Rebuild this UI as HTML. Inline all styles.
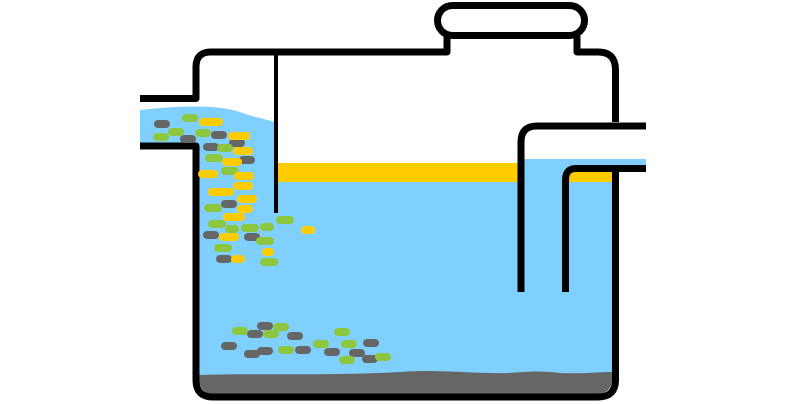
<!DOCTYPE html><html><head><style>html,body{margin:0;padding:0;background:#fff}svg{display:block}</style></head><body>
<svg width="802" height="404" viewBox="0 0 802 404" xmlns="http://www.w3.org/2000/svg">
<!-- water -->
<path d="M140,110 C175,106 215,104 240,112 C255,118 265,118 278,124 L278,182 L612,182 L612,380 L199,380 L199,146 L140,146 Z" fill="#80d0ff"/>
<rect x="520" y="159" width="126" height="13" fill="#80d0ff"/>
<rect x="520" y="159" width="92" height="230" fill="#80d0ff"/>
<!-- oil -->
<rect x="278" y="163" width="242" height="19" fill="#ffcc00"/>
<rect x="566" y="172" width="48" height="10" fill="#ffcc00"/>
<!-- sludge -->
<path d="M199,375 C260,373 330,376 400,372 C440,369 470,374 510,373 C530,371 545,371 560,373 C580,374 600,372 612,372 L612,378 Q612,394 596,394 L215,394 Q199,394 199,378 Z" fill="#666"/>
<g stroke="#000" stroke-width="7" fill="none" stroke-linejoin="round">
<rect x="437.5" y="5.5" width="147" height="30" rx="15"/>
<path d="M140,98.5 L196,98.5 L196,67 Q196,52 211,52 L447,52 L447,36"/>
<path d="M577,36 L577,52 L598,52 Q615.5,52 615.5,70 L615.5,122"/>
<path d="M140,146 L196,146 L196,380 Q196,397 213,397 L598,397 Q615.5,397 615.5,380 L615.5,169"/>
<path d="M646,126 L537,126 Q521,126 521,142 L521,292"/>
<path d="M646,168.5 L576,168.5 Q565.5,168.5 565.5,180 L565.5,292"/>
</g>
<line x1="276" y1="55" x2="276" y2="213" stroke="#000" stroke-width="4"/>
<g>
<g fill="#666">
<rect x="154" y="120" width="16" height="8" rx="4"/><rect x="180" y="135" width="16" height="8" rx="4"/><rect x="211" y="131" width="16" height="8" rx="4"/><rect x="203" y="143" width="16" height="8" rx="4"/><rect x="229" y="139" width="16" height="8" rx="4"/><rect x="239" y="156" width="16" height="8" rx="4"/><rect x="221" y="200" width="16" height="8" rx="4"/><rect x="203" y="231" width="16" height="8" rx="4"/><rect x="244" y="233" width="16" height="8" rx="4"/><rect x="216" y="255" width="16" height="8" rx="4"/>
<rect x="257" y="322" width="16" height="8" rx="4"/><rect x="247" y="330" width="16" height="8" rx="4"/><rect x="287" y="332" width="16" height="8" rx="4"/><rect x="221" y="342" width="16" height="8" rx="4"/><rect x="244" y="350" width="16" height="8" rx="4"/><rect x="257" y="347" width="16" height="8" rx="4"/><rect x="295" y="346" width="16" height="8" rx="4"/><rect x="324" y="348" width="16" height="8" rx="4"/><rect x="363" y="339" width="16" height="8" rx="4"/><rect x="349" y="349" width="16" height="8" rx="4"/><rect x="362" y="355" width="16" height="8" rx="4"/>
</g>
<g fill="#8dc63f">
<rect x="182" y="114" width="16" height="8" rx="4"/><rect x="153" y="133" width="16" height="8" rx="4"/><rect x="168" y="128" width="16" height="8" rx="4"/><rect x="195" y="129" width="16" height="8" rx="4"/><rect x="217" y="144" width="16" height="8" rx="4"/><rect x="205" y="154" width="18" height="8" rx="4"/><rect x="221" y="167" width="18" height="8" rx="4"/><rect x="204" y="204" width="18" height="8" rx="4"/><rect x="276" y="216" width="18" height="8" rx="4"/><rect x="208" y="220" width="18" height="8" rx="4"/><rect x="225" y="225" width="14" height="8" rx="4"/><rect x="241" y="224" width="18" height="8" rx="4"/><rect x="260" y="223" width="14" height="8" rx="4"/><rect x="256" y="237" width="18" height="8" rx="4"/><rect x="214" y="244" width="18" height="8" rx="4"/><rect x="260" y="258" width="18" height="8" rx="4"/>
<rect x="232" y="327" width="16" height="8" rx="4"/><rect x="273" y="323" width="16" height="8" rx="4"/><rect x="263" y="330" width="16" height="8" rx="4"/><rect x="334" y="328" width="16" height="8" rx="4"/><rect x="278" y="346" width="16" height="8" rx="4"/><rect x="313" y="340" width="16" height="8" rx="4"/><rect x="341" y="340" width="16" height="8" rx="4"/><rect x="339" y="356" width="16" height="8" rx="4"/><rect x="375" y="353" width="16" height="8" rx="4"/>
</g>
<g fill="#ffcc00">
<rect x="199" y="118" width="24" height="8" rx="4"/><rect x="228" y="132" width="22" height="8" rx="4"/><rect x="233" y="147" width="20" height="8" rx="4"/><rect x="222" y="158" width="20" height="8" rx="4"/><rect x="198" y="170" width="20" height="8" rx="4"/><rect x="234" y="172" width="20" height="8" rx="4"/><rect x="233" y="182" width="20" height="8" rx="4"/><rect x="208" y="188" width="26" height="8" rx="4"/><rect x="237" y="195" width="20" height="8" rx="4"/><rect x="237" y="205" width="16" height="8" rx="4"/><rect x="223" y="213" width="22" height="8" rx="4"/><rect x="301" y="226" width="14" height="8" rx="4"/><rect x="219" y="233" width="20" height="8" rx="4"/><rect x="262" y="248" width="12" height="8" rx="4"/><rect x="231" y="255" width="14" height="8" rx="4"/>
</g>
</g>
</svg>
</body></html>
